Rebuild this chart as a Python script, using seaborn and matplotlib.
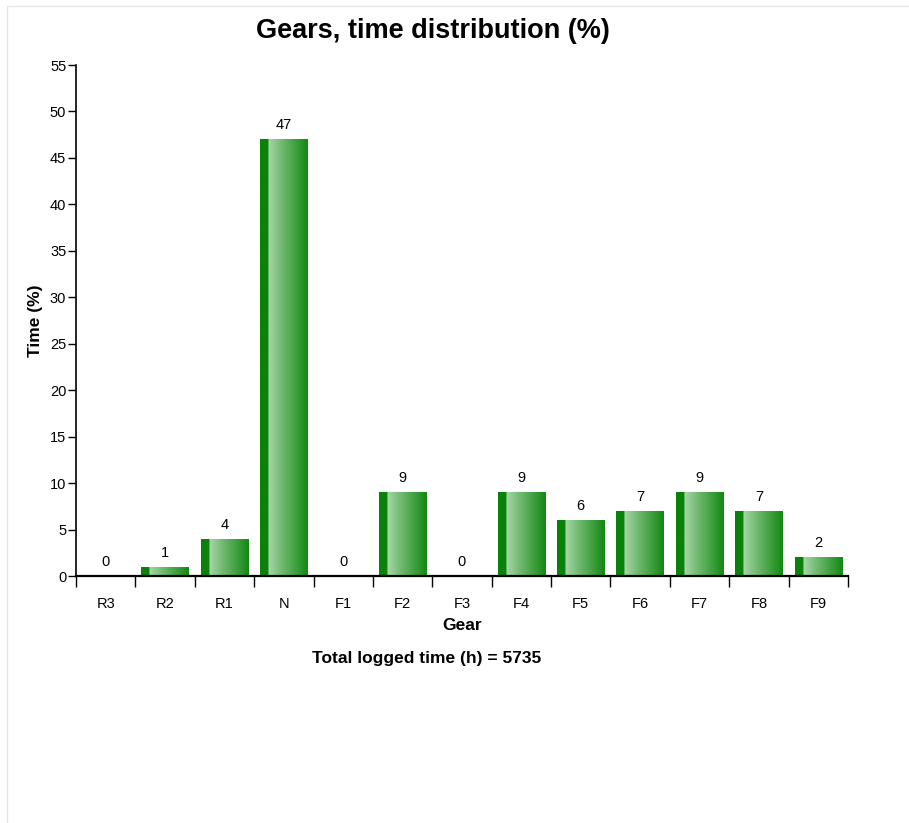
import numpy as np
import pandas as pd
import matplotlib
matplotlib.use("Agg")
import matplotlib.pyplot as plt
import seaborn as sns
from matplotlib.colors import LinearSegmentedColormap
from matplotlib.lines import Line2D

gears = ["R3", "R2", "R1", "N", "F1", "F2", "F3", "F4", "F5", "F6", "F7", "F8", "F9"]
time_pct = [0, 1, 4, 47, 0, 9, 0, 9, 6, 7, 9, 7, 2]
yticks = list(range(0, 60, 5))
title = "Gears, time distribution (%)"
xlabel = "Gear"
ylabel = "Time (%)"
footer = "Total logged time (h) = 5735"

sns.set_style("white")
plt.rcParams["font.family"] = ["Liberation Sans", "DejaVu Sans"]
plt.rcParams["text.color"] = "black"
plt.rcParams["axes.labelcolor"] = "black"
plt.rcParams["xtick.color"] = "black"
plt.rcParams["ytick.color"] = "black"

W, H = 909, 823
fig = plt.figure(figsize=(W / 100, H / 100), dpi=100)
ax = fig.add_axes([76 / W, 1 - 576 / H, (848 - 76) / W, (576 - 65) / H])

df = pd.DataFrame({"gear": gears, "time": time_pct})
sns.barplot(data=df, x="gear", y="time", ax=ax, color="#008000", width=0.8,
            saturation=1, edgecolor="none", linewidth=0)

# gradient fill for bars
cmap = LinearSegmentedColormap.from_list(
    "g", [(0.0, "#0a820a"), (0.17, "#0a820a"), (0.18, "#a6d6a6"),
          (0.45, "#72ba72"), (0.85, "#2c962c"), (1.0, "#128812")])
grad = np.linspace(0, 1, 256).reshape(1, -1)
for p in ax.patches:
    x0, y0 = p.get_x(), p.get_y()
    w, h = p.get_width(), p.get_height()
    if h <= 0:
        continue
    im = ax.imshow(grad, cmap=cmap, aspect="auto",
                   extent=[x0, x0 + w, y0, y0 + h], zorder=p.get_zorder() + 0.1,
                   interpolation="bilinear")
    im.set_clip_path(p)

ax.set_xlim(-0.5, len(gears) - 0.5)
ax.set_ylim(0, 55)

# value labels
for i, v in enumerate(time_pct):
    ax.annotate(str(v), (i, v), xytext=(0, 5), textcoords="offset points",
                ha="center", va="bottom", fontsize=10.5, color="black")

# axes styling
for s in ["top", "right"]:
    ax.spines[s].set_visible(False)
ax.spines["left"].set_linewidth(1.2)
ax.spines["bottom"].set_linewidth(1.6)
ax.spines["left"].set_color("black")
ax.spines["bottom"].set_color("black")

ax.set_yticks(yticks)
ax.set_yticklabels([str(t) for t in yticks], fontsize=10.5)
ax.tick_params(axis="y", direction="out", length=6, width=1, left=True, pad=1)

# x ticks at category boundaries, labels at centers
ax.set_xticks(np.arange(-0.5, len(gears), 1.0), minor=True)
ax.set_xticks(np.arange(len(gears)))
ax.set_xticklabels(gears, fontsize=10.5)
ax.tick_params(axis="x", which="major", length=0, pad=15)
ax.tick_params(axis="x", which="minor", direction="out", length=8, width=1, bottom=True)

ax.set_xlabel(xlabel, fontsize=12.5, fontweight="bold", labelpad=5)
ax.set_ylabel(ylabel, fontsize=12.5, fontweight="bold", labelpad=5)

fig.text(433 / W, 1 - 31 / H, title, ha="center", va="center",
         fontsize=19.5, fontweight="bold")
fig.text(427 / W, 1 - 658 / H, footer, ha="center", va="center",
         fontsize=12.5, fontweight="bold")

# thin page border (top and left)
fig.add_artist(Line2D([7 / W, 1], [1 - 6 / H, 1 - 6 / H], color="#e6e6e6", lw=1))
fig.add_artist(Line2D([7 / W, 7 / W], [0, 1 - 6 / H], color="#e6e6e6", lw=1))

fig.savefig("out.png", dpi=100)
